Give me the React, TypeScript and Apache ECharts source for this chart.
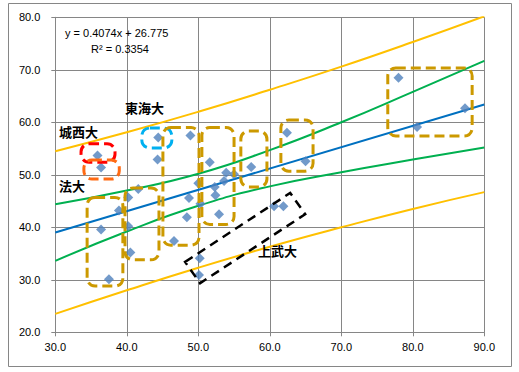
import React, { useEffect, useRef } from "react";
import * as echarts from "echarts";

// Scatter data (x, y)
const points: [number, number][] = [
  [35.9, 53.7], [36.4, 51.4], [44.4, 57.1], [44.3, 52.9], [48.9, 57.5],
  [51.6, 52.4], [53.9, 50.4], [55.0, 50.1], [57.4, 51.5], [62.4, 58.0],
  [65.0, 52.6], [78.0, 68.5], [80.6, 59.1], [87.3, 62.7], [41.6, 47.3],
  [40.2, 45.7], [38.9, 43.2], [36.4, 39.6], [40.2, 40.2], [40.5, 35.2],
  [37.5, 30.1], [48.7, 45.6], [48.4, 41.9], [46.6, 37.4], [50.0, 48.4],
  [50.3, 44.5], [52.3, 47.7], [52.4, 46.1], [52.9, 42.5], [53.6, 48.8],
  [50.2, 34.1], [50.1, 30.9], [60.6, 44.0], [61.9, 44.0],
];

// Linear trend line y = 0.4074x + 26.775 (end points)
const trendLine: [number, number][] = [[30, 39.0], [90, 63.4]];

// Confidence band (green)
const confUpper: [number, number][] = [
  [30, 44.4], [40, 47.0], [50, 50.2], [60, 54.7], [70, 60.0], [80, 65.8], [90, 71.7],
];
const confLower: [number, number][] = [
  [30, 33.6], [40, 39.2], [50, 44.1], [60, 47.8], [70, 50.5], [80, 52.9], [90, 55.2],
];

// Prediction band (yellow)
const predUpper: [number, number][] = [
  [30, 54.5], [40, 58.1], [50, 62.0], [60, 66.2], [70, 70.6], [80, 75.3], [90, 80.2],
];
const predLower: [number, number][] = [
  [30, 23.5], [40, 28.0], [50, 32.3], [60, 36.3], [70, 40.0], [80, 43.5], [90, 46.7],
];

const xRange = [30, 90];
const yRange = [20, 80];
const tickStep = 10;

const equationText = "y = 0.4074x + 26.775";
const r2Text = "R² = 0.3354";

// Annotation labels (university names)
const labels = [
  { text: "東海大", x: 125, y: 107 },
  { text: "城西大", x: 59, y: 131 },
  { text: "法大", x: 59, y: 185 },
  { text: "上武大", x: 258, y: 250 },
];

// Dashed annotation boxes in data coordinates [x1, y1, x2, y2]
const GOLD = "#CC9900";
const boxes = [
  { color: "#FF0000", r: [33.6, 55.9, 38.35, 52.4] },
  { color: "#FF6A13", r: [34.0, 52.8, 38.95, 49.2] },
  { color: "#00B0F0", r: [42.1, 58.9, 46.3, 55.1] },
  { color: GOLD, r: [34.45, 45.7, 39.45, 28.8] },
  { color: GOLD, r: [39.75, 47.5, 44.5, 33.8] },
  { color: GOLD, r: [45.05, 59.0, 50.1, 36.6] },
  { color: GOLD, r: [50.5, 59.0, 55.0, 40.55] },
  { color: GOLD, r: [55.95, 58.35, 59.6, 47.7] },
  { color: GOLD, r: [61.55, 60.45, 66.05, 50.7] },
  { color: GOLD, r: [76.5, 70.35, 88.3, 57.4] },
];

// Rotated black dashed box corners (data coordinates)
const blackBox: [number, number][] = [
  [48.15, 33.4], [62.85, 46.55], [64.95, 42.5], [50.25, 29.35],
];

export default function App() {
  const ref = useRef<HTMLDivElement>(null);

  useEffect(() => {
    document.body.style.margin = "0";
    if (!ref.current) return;
    const chart = echarts.init(ref.current, null, { renderer: "svg" });
    const axisColor = "#868686";
    const font = "'Liberation Sans', Arial, sans-serif";

    const lineSeries = (data: [number, number][], color: string, smooth: boolean) => ({
      type: "line",
      data,
      smooth,
      showSymbol: false,
      symbol: "none",
      lineStyle: { color, width: 2 },
      z: 3,
      silent: true,
    });

    chart.setOption({
      animation: false,
      backgroundColor: "#ffffff",
      grid: { left: 55.3, right: 34.7, top: 17.3, bottom: 39.7, containLabel: false },
      xAxis: {
        type: "value",
        min: xRange[0],
        max: xRange[1],
        interval: tickStep,
        axisLine: { show: true, onZero: false, lineStyle: { color: axisColor, width: 1 } },
        axisTick: { show: true, length: 4, lineStyle: { color: axisColor } },
        splitLine: { show: true, lineStyle: { color: axisColor, width: 1 } },
        axisLabel: {
          formatter: (v: number) => v.toFixed(1),
          color: "#000",
          fontSize: 11,
          fontFamily: font,
          margin: 9,
        },
      },
      yAxis: {
        type: "value",
        min: yRange[0],
        max: yRange[1],
        interval: tickStep,
        axisLine: { show: true, onZero: false, lineStyle: { color: axisColor, width: 1 } },
        axisTick: { show: true, length: 4, lineStyle: { color: axisColor } },
        splitLine: { show: true, lineStyle: { color: axisColor, width: 1 } },
        axisLabel: {
          formatter: (v: number) => v.toFixed(1),
          color: "#000",
          fontSize: 11,
          fontFamily: font,
          margin: 15,
        },
      },
      series: [
        lineSeries(predUpper, "#FFC000", true),
        lineSeries(predLower, "#FFC000", true),
        lineSeries(confUpper, "#00B050", true),
        lineSeries(confLower, "#00B050", true),
        lineSeries(trendLine, "#0070C0", false),
        {
          type: "scatter",
          data: points,
          symbol: "diamond",
          symbolSize: 10,
          itemStyle: { color: "#4F81BD" },
          z: 4,
        },
      ],
    });

    const toPx = (p: [number, number]) =>
      chart.convertToPixel({ xAxisIndex: 0, yAxisIndex: 0 }, p) as number[];

    const graphics: any[] = [
      {
        type: "rect",
        shape: { x: 8.5, y: 3.5, width: 503, height: 363 },
        style: { fill: "none", stroke: axisColor, lineWidth: 1 },
        silent: true,
        z: 1,
      },
    ];

    boxes.forEach((b) => {
      const a = toPx([b.r[0], b.r[1]]);
      const c = toPx([b.r[2], b.r[3]]);
      graphics.push({
        type: "rect",
        shape: { x: a[0], y: a[1], width: c[0] - a[0], height: c[1] - a[1], r: 8 },
        style: { fill: "none", stroke: b.color, lineWidth: 3, lineDash: [10, 5] },
        silent: true,
        z: 10,
      });
    });

    graphics.push({
      type: "polygon",
      shape: { points: blackBox.map((p) => toPx(p)) },
      style: { fill: "none", stroke: "#000000", lineWidth: 2.5, lineDash: [9, 6] },
      silent: true,
      z: 10,
    });

    graphics.push({
      type: "text",
      x: 65,
      y: 33,
      style: {
        text: equationText,
        fill: "#000",
        fontSize: 11,
        fontFamily: font,
        textAlign: "left",
        textVerticalAlign: "middle",
      },
      z: 11,
    });
    graphics.push({
      type: "text",
      x: 120,
      y: 49,
      style: {
        text: r2Text,
        fill: "#000",
        fontSize: 11,
        fontFamily: font,
        textAlign: "center",
        textVerticalAlign: "middle",
      },
      z: 11,
    });

    labels.forEach((l) => {
      graphics.push({
        type: "text",
        x: l.x,
        y: l.y,
        style: {
          text: l.text,
          fill: "#000",
          fontSize: 13,
          fontWeight: "bold",
          fontFamily: "'Noto Sans CJK JP', sans-serif",
          textAlign: "left",
          textVerticalAlign: "middle",
        },
        z: 11,
      });
    });

    chart.setOption({ graphic: graphics });

    return () => chart.dispose();
  }, []);

  return <div ref={ref} style={{ width: 519, height: 372 }} />;
}
